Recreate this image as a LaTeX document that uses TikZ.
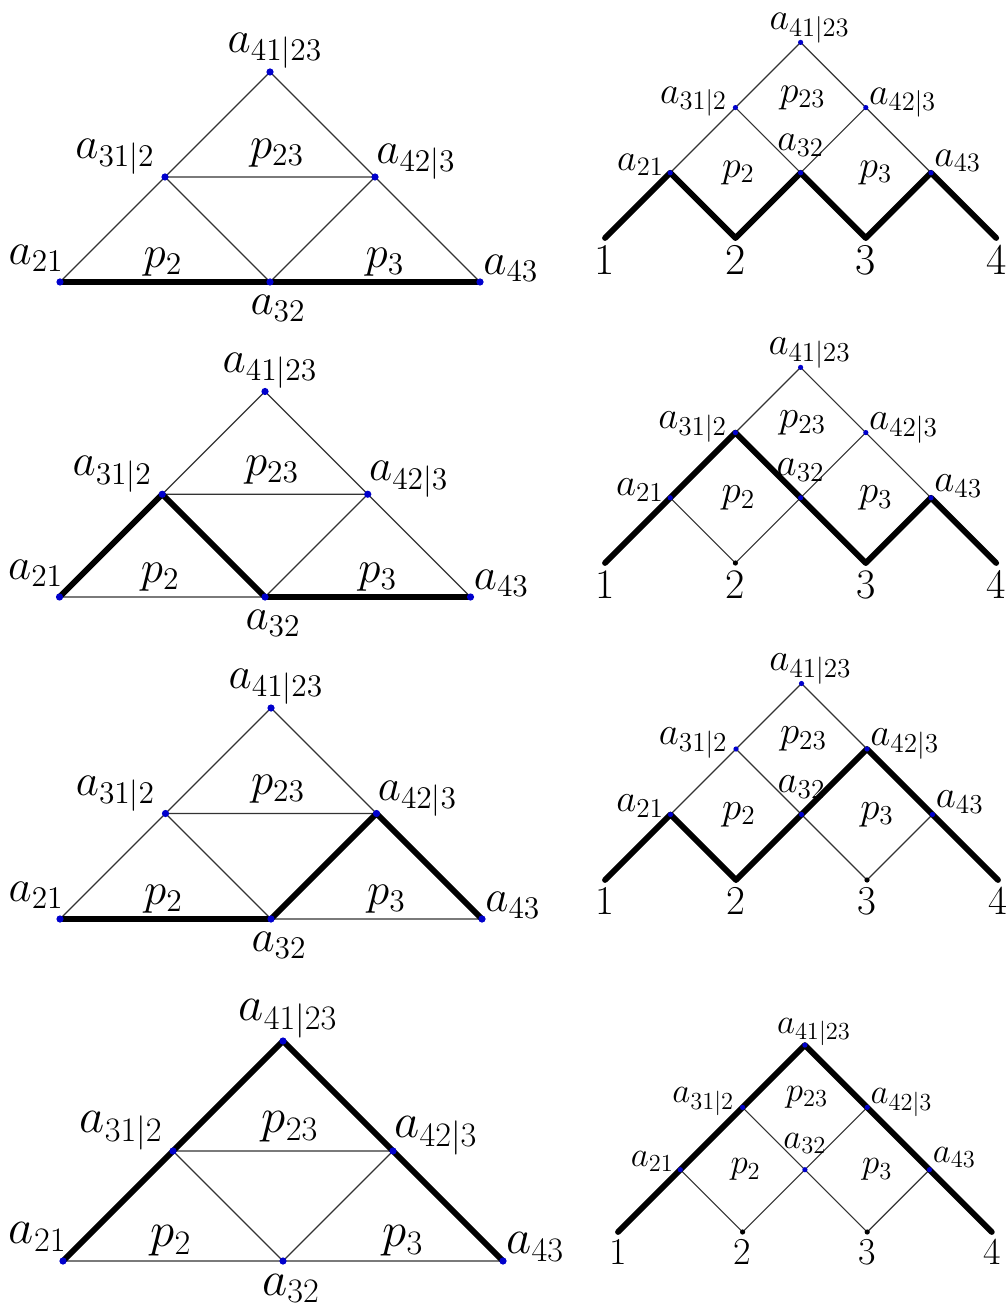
\RequirePackage{fix-cm}
\documentclass[tikz,border=0pt]{standalone}
\usepackage{tikz}
\definecolor{DotBlue}{HTML}{0000CC}
\definecolor{Wire}{HTML}{333333}

\begin{document}
\begin{tikzpicture}[x=0.5pt,y=-0.5pt,
 wire/.style={line width=0.55pt,draw=Wire},
 route/.style={line width=2.9pt,line cap=round,line join=round},
 leftlbl/.style={inner sep=0pt,font=\fontsize{\lfs}{\lfs}\selectfont},
 rightlbl/.style={inner sep=0pt,font=\fontsize{\rfs}{\rfs}\selectfont},
 digit/.style={inner sep=0pt,anchor=north,yshift=-3.5pt,font=\fontsize{\nfs}{\nfs}\selectfont}]
 \useasboundingbox (0,0) rectangle (1005,1309);
 \foreach \r/\lx/\ly/\lu/\lfs/\lroute/\rx/\ry/\ru/\rfs/\nfs/\rroute in {
  1/270/282/105/22.5/{21,32,43}/605/238/65.2/19/22/{b1,21,b2,32,b3,43,b4},
  2/265/597/102.75/22.5/{21,31,32,43}/605/563/65.2/19.5/21/{b1,21,31,32,b3,43,b4},
  3/271/919/105.5/22.5/{21,32,42,43}/605/880/65.5/19.5/20.5/{b1,21,b2,32,42,43,b4},
  4/283/1261/110/24.5/{21,31,41,42,43}/618/1232/62.3/17.5/19/{b1,21,31,41,42,43,b4}}{
 % triangle on the left
 \begin{scope}[shift={(\lx,\ly)}]
  \coordinate (L\r-21) at ({-2*\lu},0);
  \coordinate (L\r-32) at (0,0);
  \coordinate (L\r-43) at ({2*\lu},0);
  \coordinate (L\r-31) at ({-\lu},{-\lu});
  \coordinate (L\r-42) at ({\lu},{-\lu});
  \coordinate (L\r-41) at (0,{-2*\lu});
  \draw[wire] (L\r-21) -- (L\r-43) -- (L\r-41) -- cycle;
  \draw[wire] (L\r-31) -- (L\r-42) -- (L\r-32) -- cycle;
  \draw[route] (L\r-21) \foreach \n in \lroute {-- (L\r-\n)};
  \foreach \n in {21,31,32,41,42,43} \fill[DotBlue] (L\r-\n) circle[radius=1.8pt];
  \node[leftlbl,anchor=south,xshift=2.5pt,yshift=1.5pt] (L\r-t41) at (L\r-41) {$a_{41|23}$};
  \node[leftlbl,anchor=east,xshift=-5pt,yshift=10pt] (L\r-t31) at (L\r-31) {$a_{31|2}$};
  \node[leftlbl,anchor=west,xshift=0.5pt,yshift=7.5pt] (L\r-t42) at (L\r-42) {$a_{42|3}$};
  \node[leftlbl,anchor=east,xshift=2pt,yshift=12pt] (L\r-t21) at (L\r-21) {$a_{21}$};
  \node[leftlbl,anchor=west,xshift=1.5pt,yshift=7pt] (L\r-t43) at (L\r-43) {$a_{43}$};
  \node[leftlbl,anchor=north,xshift=4pt,yshift=-6.5pt] (L\r-t32) at (L\r-32) {$a_{32}$};
  \node[leftlbl,xshift=-1pt,yshift=10pt] (L\r-p2) at ({-\lu},0) {$p_2$};
  \node[leftlbl,xshift=5pt,yshift=10pt] (L\r-p3) at ({\lu},0) {$p_3$};
  \node[leftlbl,xshift=3.5pt,yshift=12pt] (L\r-p23) at (0,{-\lu}) {$p_{23}$};
 \end{scope}
 % lattice on the right
 \begin{scope}[shift={(\rx,\ry)}]
  \coordinate (R\r-b1) at (0,0);
  \coordinate (R\r-b2) at ({2*\ru},0);
  \coordinate (R\r-b3) at ({4*\ru},0);
  \coordinate (R\r-b4) at ({6*\ru},0);
  \coordinate (R\r-21) at ({\ru},{-\ru});
  \coordinate (R\r-32) at ({3*\ru},{-\ru});
  \coordinate (R\r-43) at ({5*\ru},{-\ru});
  \coordinate (R\r-31) at ({2*\ru},{-2*\ru});
  \coordinate (R\r-42) at ({4*\ru},{-2*\ru});
  \coordinate (R\r-41) at ({3*\ru},{-3*\ru});
  \draw[wire] (R\r-b1) -- (R\r-21) -- (R\r-b2) -- (R\r-32) -- (R\r-b3) -- (R\r-43) -- (R\r-b4);
  \draw[wire] (R\r-21) -- (R\r-41) -- (R\r-43);
  \draw[wire] (R\r-31) -- (R\r-32) -- (R\r-42);
  \draw[route] (R\r-b1) \foreach \n in \rroute {-- (R\r-\n)};
  \foreach \n in {21,31,32,41,42,43} \fill[DotBlue] (R\r-\n) circle[radius=1.3pt];
  \foreach \n in {b2,b3} \fill (R\r-\n) circle[radius=1.3pt];
  \node[rightlbl,anchor=south,xshift=4.5pt,yshift=-0.5pt] (R\r-t41) at (R\r-41) {$a_{41|23}$};
  \node[rightlbl,anchor=east,xshift=-4pt,yshift=3pt] (R\r-t31) at (R\r-31) {$a_{31|2}$};
  \node[rightlbl,anchor=west,xshift=1.5pt,yshift=2.5pt] (R\r-t42) at (R\r-42) {$a_{42|3}$};
  \node[rightlbl,anchor=east,xshift=-3pt,yshift=4pt] (R\r-t21) at (R\r-21) {$a_{21}$};
  \node[rightlbl,anchor=west,xshift=1.5pt,yshift=6pt] (R\r-t43) at (R\r-43) {$a_{43}$};
  \node[rightlbl,anchor=south,yshift=8pt] (R\r-t32) at (R\r-32) {$a_{32}$};
  \node[rightlbl,xshift=1.5pt] (R\r-p2) at ({2*\ru},{-\ru}) {$p_2$};
  \node[rightlbl,xshift=5pt] (R\r-p3) at ({4*\ru},{-\ru}) {$p_3$};
  \node[rightlbl,xshift=1pt,yshift=5pt] (R\r-p23) at ({3*\ru},{-2*\ru}) {$p_{23}$};
  \node[digit] (R\r-n1) at (R\r-b1) {1};
  \node[digit] (R\r-n2) at (R\r-b2) {2};
  \node[digit] (R\r-n3) at (R\r-b3) {3};
  \node[digit] (R\r-n4) at (R\r-b4) {4};
 \end{scope}
 }
\end{tikzpicture}
\end{document}
